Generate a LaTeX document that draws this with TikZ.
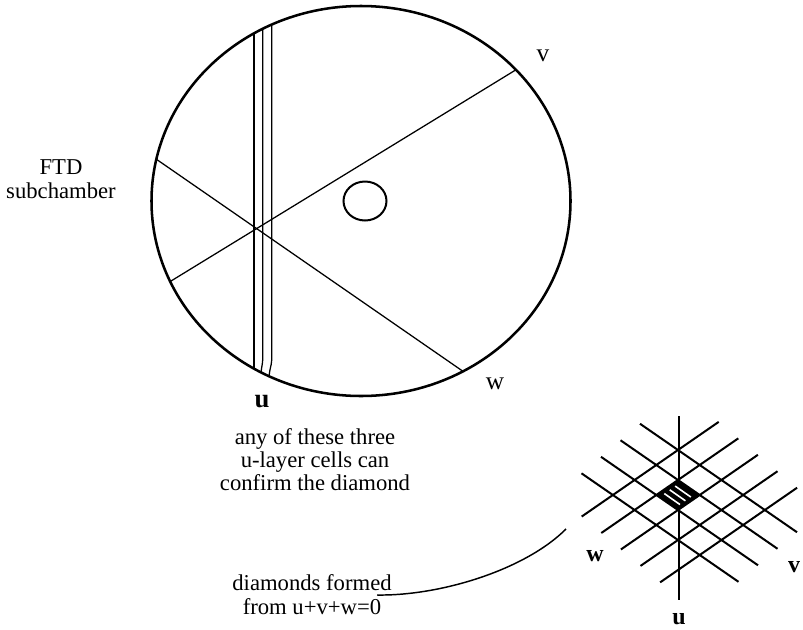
\documentclass[tikz,border=0pt]{standalone}
\usepackage{fontspec}
\setmainfont{Liberation Serif}
\begin{document}
\begin{tikzpicture}[x=0.75pt,y=-0.75pt,
  txt/.style={inner sep=0pt,align=center,font=\fontsize{17}{18}\selectfont},
  lbl/.style={inner sep=0pt,font=\fontsize{18}{19}\selectfont\bfseries},
  lblr/.style={inner sep=0pt,font=\fontsize{19}{20}\selectfont},
  rim/.style={line width=1.9pt},
  thin/.style={line width=0.95pt},
  gridline/.style={line width=1.5pt},
  stripe/.style={white,line width=1.2pt}]
\useasboundingbox (0,0) rectangle (803,629);
% ---------- big ellipse (FTD subchamber) ----------
\begin{scope}
  \clip (361,201) ellipse [x radius=209.5, y radius=195];
  \draw[thin] (140,300) -- (545,52);   % v line
  \draw[thin] (130,141) -- (490,390);  % w line
  \draw[thin] (254,0) -- (254,400);
  \draw[thin] (262.7,0) -- (262.7,360) .. controls (262.7,366) and (260,367) .. (260,400);
  \draw[thin] (271.7,0) -- (271.7,360) .. controls (271.7,367) and (268,368) .. (268,400);
\end{scope}
\draw[rim] (361,201) ellipse [x radius=209.5, y radius=195];
\draw[line width=1.5pt] (365,201) ellipse [x radius=21.5, y radius=19.5];
\node[lblr] (v1) at (543,56) {v};
\node[lblr] (w1) at (495,384) {w};
\node[lbl,font=\fontsize{20}{21}\selectfont\bfseries] (u1) at (262,402) {u};
\node[txt] (ftd) at (61,179) {FTD\\subchamber};
\node[txt,font=\fontsize{17}{17.3}\selectfont] (conf) at (315,460) {any of these three\\u-layer cells can\\confirm the diamond};
% ---------- small lattice ----------
\foreach \k in {-1,0,1,2}{
  \pgfmathsetmacro{\xa}{640-19.5*(\k+1)}
  \pgfmathsetmacro{\xb}{\xa+157}
  \draw[gridline] (\xa,{480+30*\k+0.691*(\xa-678)}) -- (\xb,{480+30*\k+0.691*(\xb-678)});
}
\foreach \k in {-1,0,1,2,3}{
  \pgfmathsetmacro{\xa}{581.7+19.6*(\k+1)}
  \pgfmathsetmacro{\xb}{\xa+137}
  \draw[gridline] (\xa,{480+30*\k-0.691*(\xa-678)}) -- (\xb,{480+30*\k-0.691*(\xb-678)});
}
\draw[gridline] (678.5,416) -- (678.5,600);
% shaded diamond
\fill (678,480) -- (699.7,495) -- (678,510) -- (656.3,495) -- cycle;
\foreach \t in {0.27,0.52,0.77}{
  \draw[stripe] ({678-21.7*\t+3},{480+15*\t+2}) -- ({699.7-21.7*\t-3},{495+15*\t-2});
}
\node[lbl] (w2) at (595,556) {w};
\node[lbl] (v2) at (794,567) {v};
\node[lbl] (u2) at (679,619) {u};
% ---------- label and connector ----------
\node[txt,font=\fontsize{17}{18}\selectfont] (diam) at (312,595) {diamonds formed\\from u+v+w=0};
\coordinate (cstart) at (377,595);
\coordinate (cend) at (566,529);
\draw[line width=1.1pt] (cstart) .. controls (440,596) and (525,570) .. (cend);
\end{tikzpicture}
\end{document}
